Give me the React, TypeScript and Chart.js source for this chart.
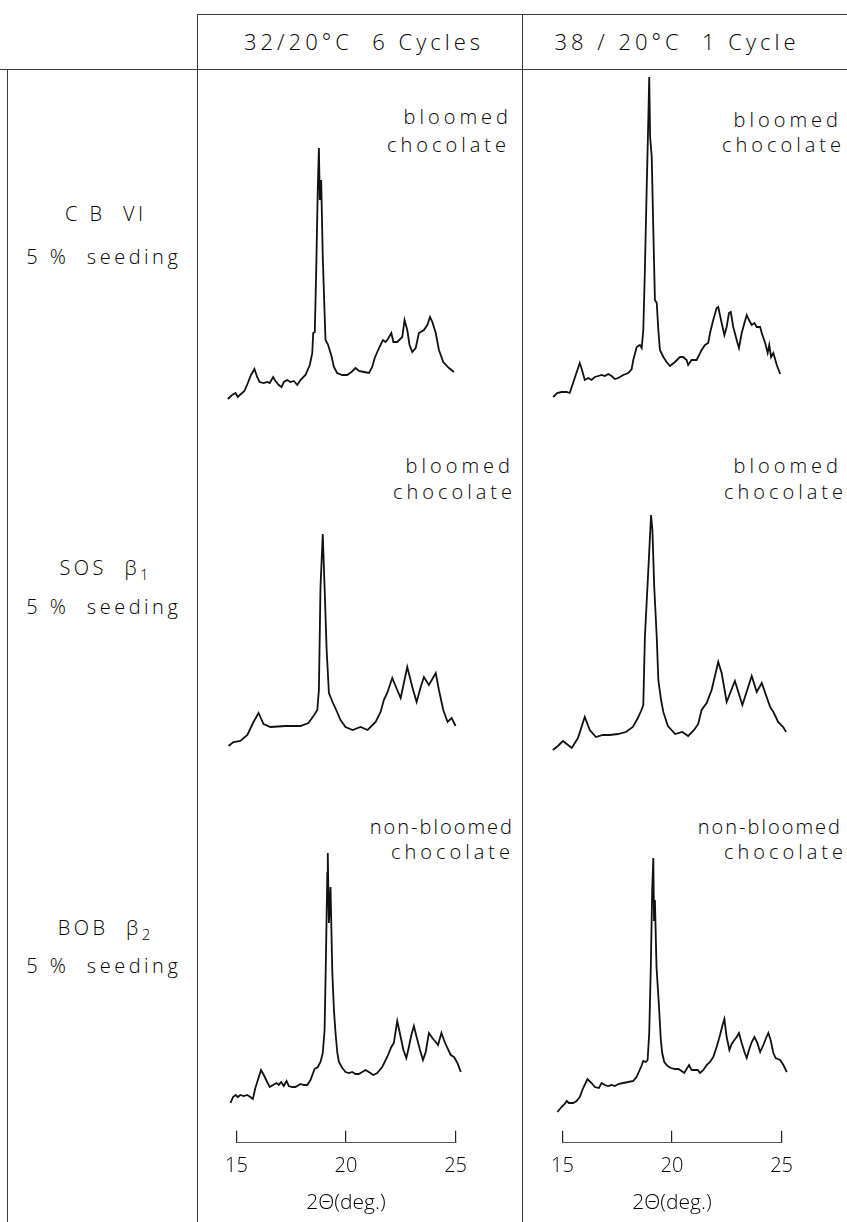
import React, { useEffect, useRef } from "react";
import { Chart, registerables } from "chart.js";

Chart.register(...registerables);

// ---------- data (2θ in degrees, intensity in arbitrary units) ----------
const cbvi32Theta = [14.81, 15.0, 15.15, 15.25, 15.39, 15.54, 15.69, 15.83, 15.98, 16.1, 16.21, 16.39, 16.54, 16.65, 16.8, 16.9, 17.05, 17.17, 17.27, 17.42, 17.56, 17.71, 17.86, 18.0, 18.22, 18.41, 18.52, 18.56, 18.63, 18.69, 18.76, 18.81, 18.85, 18.91, 18.98, 19.06, 19.1, 19.2, 19.35, 19.47, 19.61, 19.83, 20.05, 20.24, 20.42, 20.57, 20.79, 21.01, 21.15, 21.26, 21.45, 21.62, 21.74, 21.84, 21.99, 22.08, 22.25, 22.47, 22.57, 22.69, 22.79, 22.91, 23.06, 23.2, 23.42, 23.57, 23.69, 23.79, 23.94, 24.08, 24.27, 24.52, 24.74];
const cbvi32Counts = [11, 15, 17, 13, 16, 19, 27, 35, 41, 33, 28, 27, 28, 27, 33, 29, 25, 23, 28, 30, 28, 29, 25, 30, 35, 45, 57, 77, 78, 137, 220, 262, 210, 230, 153, 97, 70, 66, 55, 43, 37, 35, 35, 38, 42, 39, 38, 37, 43, 52, 62, 70, 68, 71, 77, 68, 68, 73, 90, 80, 65, 58, 62, 77, 80, 85, 93, 88, 77, 60, 48, 42, 38];

const cbvi38Theta = [14.78, 14.96, 15.15, 15.37, 15.51, 15.73, 15.95, 16.05, 16.17, 16.32, 16.47, 16.61, 16.76, 16.91, 17.05, 17.2, 17.35, 17.49, 17.64, 17.86, 18.08, 18.23, 18.3, 18.45, 18.59, 18.67, 18.74, 18.81, 18.89, 18.96, 19.0, 19.04, 19.11, 19.18, 19.25, 19.33, 19.4, 19.47, 19.62, 19.76, 19.91, 20.13, 20.35, 20.49, 20.64, 20.71, 20.86, 21.08, 21.3, 21.45, 21.59, 21.67, 21.81, 21.96, 22.03, 22.18, 22.3, 22.4, 22.5, 22.58, 22.69, 22.84, 22.94, 23.06, 23.18, 23.28, 23.38, 23.5, 23.62, 23.72, 23.87, 23.94, 24.09, 24.2, 24.27, 24.35, 24.45, 24.6, 24.75];
const cbvi38Counts = [13, 17, 18, 18, 17, 32, 47, 40, 30, 32, 30, 33, 34, 35, 34, 36, 34, 31, 32, 35, 37, 41, 50, 63, 65, 62, 80, 140, 223, 290, 333, 273, 253, 180, 110, 107, 80, 60, 53, 48, 44, 48, 53, 53, 50, 45, 50, 50, 60, 65, 67, 77, 90, 102, 103, 87, 75, 83, 97, 98, 83, 70, 62, 77, 87, 95, 90, 85, 87, 83, 83, 77, 67, 57, 65, 53, 57, 45, 36];

const sos32Theta = [14.84, 15.06, 15.36, 15.67, 15.94, 16.16, 16.38, 16.68, 17.34, 18.0, 18.35, 18.57, 18.74, 18.81, 18.88, 18.98, 19.06, 19.15, 19.25, 19.41, 19.57, 19.76, 19.98, 20.29, 20.64, 20.95, 21.3, 21.52, 21.66, 21.81, 22.03, 22.25, 22.4, 22.69, 22.91, 23.1, 23.28, 23.42, 23.64, 23.94, 24.08, 24.27, 24.46, 24.64, 24.81];
const sos32Counts = [14, 18, 19, 25, 38, 47, 36, 33, 34, 34, 37, 44, 50, 70, 173, 226, 173, 110, 67, 58, 50, 40, 33, 30, 33, 30, 38, 48, 60, 67, 82, 70, 62, 93, 73, 58, 73, 83, 75, 87, 70, 50, 38, 42, 34];

const sos38Theta = [14.77, 14.99, 15.21, 15.38, 15.6, 15.87, 16.17, 16.39, 16.66, 16.96, 17.27, 17.62, 17.98, 18.28, 18.5, 18.64, 18.74, 18.81, 18.96, 19.08, 19.14, 19.22, 19.33, 19.4, 19.52, 19.62, 19.82, 20.14, 20.45, 20.71, 20.97, 21.15, 21.3, 21.52, 21.74, 22.03, 22.18, 22.4, 22.76, 23.09, 23.5, 23.72, 23.94, 24.31, 24.45, 24.66, 24.88, 25.01];
const sos38Counts = [10, 14, 19, 16, 12, 22, 43, 30, 23, 25, 25, 26, 28, 33, 42, 49, 55, 123, 190, 245, 230, 173, 123, 80, 60, 48, 34, 26, 28, 24, 30, 36, 50, 57, 70, 98, 87, 58, 79, 55, 84, 68, 77, 53, 48, 38, 33, 28];

const bob32Theta = [14.93, 15.04, 15.15, 15.25, 15.36, 15.51, 15.66, 15.8, 15.91, 16.02, 16.13, 16.27, 16.39, 16.54, 16.65, 16.8, 16.95, 17.05, 17.15, 17.27, 17.39, 17.49, 17.64, 17.78, 18.0, 18.15, 18.3, 18.44, 18.62, 18.76, 18.88, 18.98, 19.06, 19.12, 19.18, 19.2, 19.25, 19.32, 19.4, 19.47, 19.54, 19.62, 19.69, 19.84, 19.98, 20.13, 20.27, 20.42, 20.56, 20.71, 20.86, 21.0, 21.2, 21.37, 21.59, 21.81, 21.99, 22.1, 22.25, 22.4, 22.52, 22.65, 22.76, 22.87, 22.98, 23.1, 23.25, 23.38, 23.5, 23.64, 23.79, 23.94, 24.04, 24.19, 24.3, 24.45, 24.6, 24.74, 24.89, 25.04];
const bob32Counts = [12, 18, 20, 18, 20, 19, 20, 18, 16, 27, 35, 45, 40, 33, 28, 30, 32, 30, 33, 29, 34, 29, 28, 28, 31, 30, 30, 35, 46, 48, 53, 62, 85, 158, 242, 262, 192, 228, 142, 105, 82, 62, 53, 47, 43, 42, 43, 41, 41, 43, 45, 43, 40, 42, 48, 58, 68, 72, 94, 78, 65, 57, 68, 80, 89, 78, 65, 55, 63, 82, 77, 73, 70, 82, 75, 67, 60, 58, 52, 43];

const bob38Theta = [14.97, 15.15, 15.29, 15.38, 15.47, 15.66, 15.81, 15.95, 16.1, 16.29, 16.47, 16.61, 16.79, 16.91, 17.05, 17.2, 17.35, 17.49, 17.64, 17.86, 18.08, 18.3, 18.44, 18.64, 18.74, 18.85, 18.93, 19.0, 19.07, 19.13, 19.18, 19.21, 19.25, 19.32, 19.43, 19.51, 19.57, 19.66, 19.81, 19.95, 20.13, 20.28, 20.42, 20.54, 20.64, 20.75, 20.86, 21.01, 21.13, 21.23, 21.38, 21.52, 21.67, 21.81, 21.96, 22.11, 22.22, 22.3, 22.4, 22.52, 22.62, 22.74, 22.84, 22.94, 23.06, 23.18, 23.28, 23.38, 23.5, 23.62, 23.75, 23.87, 24.01, 24.13, 24.23, 24.33, 24.45, 24.55, 24.75, 24.89, 25.04];
const bob38Counts = [3, 8, 11, 14, 12, 12, 14, 18, 27, 36, 32, 28, 27, 32, 30, 29, 30, 29, 31, 32, 33, 34, 38, 48, 54, 53, 55, 82, 148, 225, 257, 195, 215, 148, 108, 75, 62, 53, 49, 47, 46, 46, 44, 42, 46, 50, 45, 45, 45, 42, 45, 50, 53, 58, 68, 80, 90, 96, 78, 65, 71, 75, 78, 82, 72, 63, 57, 65, 73, 78, 72, 63, 70, 77, 82, 75, 62, 57, 55, 50, 43];

const thetaTicks = [15, 20, 25];
const axisTitle = "2\u0398(deg.)";
const conditions = ["32/20\u00b0C  6 Cycles", "38 / 20\u00b0C  1 Cycle"];

// ---------- layout ----------
const FONT = "'Open Sans', 'DejaVu Sans', sans-serif";
const PX_PER_DEG = 22.75;
const COL_ORIGIN = [231.7, 558.3]; // pixel of 2θ = 15 per column
const X_MIN = 14.6;
const X_MAX = 25.4;
const INK = "#000";

function Trace(props: { theta: number[]; counts: number[]; col: number; baseline: number; yMax: number }) {
  const ref = useRef<HTMLCanvasElement>(null);
  const width = Math.round((X_MAX - X_MIN) * PX_PER_DEG);
  const left = COL_ORIGIN[props.col] + (X_MIN - 15) * PX_PER_DEG;
  const height = props.yMax;
  useEffect(() => {
    const chart = new Chart(ref.current as HTMLCanvasElement, {
      type: "line",
      data: {
        datasets: [
          {
            data: props.theta.map((t, i) => ({ x: t, y: props.counts[i] })),
            borderColor: "#111",
            borderWidth: 1.8,
            pointRadius: 0,
            tension: 0,
            fill: false,
            clip: false as any,
          },
        ],
      },
      options: {
        animation: false,
        responsive: false,
        events: [],
        layout: { padding: 0 },
        plugins: { legend: { display: false }, tooltip: { enabled: false } },
        scales: {
          x: { type: "linear", min: X_MIN, max: X_MAX, display: false },
          y: { type: "linear", min: 0, max: props.yMax, display: false },
        },
      },
    });
    return () => chart.destroy();
  }, []);
  return (
    <canvas
      ref={ref}
      width={width}
      height={height}
      style={{ position: "absolute", left, top: props.baseline - height, width, height }}
    />
  );
}

function ThetaAxis(props: { col: number }) {
  const ref = useRef<HTMLCanvasElement>(null);
  const padL = 30;
  const span = 10 * PX_PER_DEG;
  const width = 288;
  const padR = width - padL - span;
  const left = COL_ORIGIN[props.col] - padL;
  const bottom = 1216;
  const height = 150;
  const top = bottom - height;
  useEffect(() => {
    const chart = new Chart(ref.current as HTMLCanvasElement, {
      type: "line",
      data: { datasets: [{ data: [] }] },
      options: {
        animation: false,
        responsive: false,
        events: [],
        layout: { padding: { left: padL, right: padR, top: 0, bottom: 0 } },
        plugins: { legend: { display: false }, tooltip: { enabled: false } },
        scales: {
          x: {
            type: "linear",
            min: 15,
            max: 25,
            afterBuildTicks: (scale: any) => {
              scale.ticks = thetaTicks.map((v) => ({ value: v }));
            },
            grid: { display: true, drawOnChartArea: false, drawTicks: true, tickLength: -12, color: "#222", lineWidth: 1.2 },
            border: { display: true, color: "#555", width: 1 },
            ticks: {
              color: INK,
              padding: 23,
              maxRotation: 0,
              font: { family: FONT, size: 20, weight: "300" as any },
              callback: (v: any) => String(v),
            },
            title: {
              display: true,
              text: axisTitle,
              color: INK,
              font: { family: FONT, size: 21, weight: "300" as any },
              padding: { top: -10, bottom: 0 },
            },
          },
          y: { display: false, min: 0, max: 1 },
        },
      },
    });
    return () => chart.destroy();
  }, []);
  return (
    <canvas ref={ref} width={width} height={height} style={{ position: "absolute", left, top, width, height }} />
  );
}

function Txt(props: { x: number; y: number; align?: "center" | "right"; size?: number; spacing?: number; children: any }) {
  const align = props.align || "center";
  const spacing = props.spacing ?? 4;
  const tx = align === "center" ? "-50%" : "-100%";
  return (
    <div
      style={{
        position: "absolute",
        left: align === "right" ? props.x + spacing : props.x + spacing / 2,
        top: props.y,
        transform: `translate(${tx}, -50%)`,
        whiteSpace: "pre",
        fontFamily: FONT,
        fontWeight: 300,
        fontSize: props.size || 20,
        letterSpacing: spacing,
        lineHeight: 1,
        color: INK,
      }}
    >
      {props.children}
    </div>
  );
}

function Line(props: { x: number; y: number; w: number; h: number }) {
  return (
    <div style={{ position: "absolute", left: props.x, top: props.y, width: props.w, height: props.h, background: "#3a3a3a" }} />
  );
}

export default function App() {
  return (
    <div style={{ position: "absolute", left: 0, top: 0, width: 847, height: 1222, background: "#fff", overflow: "hidden" }}>
      {/* frame */}
      <Line x={197} y={14} w={650} h={1} />
      <Line x={0} y={69} w={847} h={1} />
      <Line x={7} y={69} w={1} h={1153} />
      <Line x={197} y={14} w={1} h={1208} />
      <Line x={522} y={14} w={1} h={1208} />

      {/* column headers */}
      <Txt x={362} y={41} size={22} spacing={4}>{conditions[0]}</Txt>
      <Txt x={675} y={41} size={22} spacing={4}>{conditions[1]}</Txt>

      {/* row labels */}
      <Txt x={104} y={214} spacing={3.5}>{"C B  VI"}</Txt>
      <Txt x={102} y={257} spacing={3.5}>{"5 %  seeding"}</Txt>
      <Txt x={104} y={570} spacing={3.5}>
        {"SOS  \u03b2"}
        <sub style={{ fontSize: 15 }}>1</sub>
      </Txt>
      <Txt x={102} y={607} spacing={3.5}>{"5 %  seeding"}</Txt>
      <Txt x={104} y={930} spacing={3.5}>
        {"BOB  \u03b2"}
        <sub style={{ fontSize: 15 }}>2</sub>
      </Txt>
      <Txt x={102} y={966} spacing={3.5}>{"5 %  seeding"}</Txt>

      {/* panel annotations */}
      <Txt x={508} y={117} align="right">bloomed</Txt>
      <Txt x={506} y={145} align="right">chocolate</Txt>
      <Txt x={838} y={120} align="right">bloomed</Txt>
      <Txt x={841} y={145} align="right">chocolate</Txt>

      <Txt x={510} y={466} align="right">bloomed</Txt>
      <Txt x={512} y={492} align="right">chocolate</Txt>
      <Txt x={838} y={466} align="right">bloomed</Txt>
      <Txt x={843} y={492} align="right">chocolate</Txt>

      <Txt x={512} y={827} align="right" spacing={2}>non-bloomed</Txt>
      <Txt x={510} y={852} align="right">chocolate</Txt>
      <Txt x={840} y={827} align="right" spacing={2}>non-bloomed</Txt>
      <Txt x={843} y={852} align="right">chocolate</Txt>

      {/* diffraction traces */}
      <Trace theta={cbvi32Theta} counts={cbvi32Counts} col={0} baseline={410} yMax={350} />
      <Trace theta={cbvi38Theta} counts={cbvi38Counts} col={1} baseline={410} yMax={350} />
      <Trace theta={sos32Theta} counts={sos32Counts} col={0} baseline={760} yMax={300} />
      <Trace theta={sos38Theta} counts={sos38Counts} col={1} baseline={760} yMax={300} />
      <Trace theta={bob32Theta} counts={bob32Counts} col={0} baseline={1115} yMax={290} />
      <Trace theta={bob38Theta} counts={bob38Counts} col={1} baseline={1115} yMax={290} />

      {/* 2θ axes */}
      <ThetaAxis col={0} />
      <ThetaAxis col={1} />
    </div>
  );
}
